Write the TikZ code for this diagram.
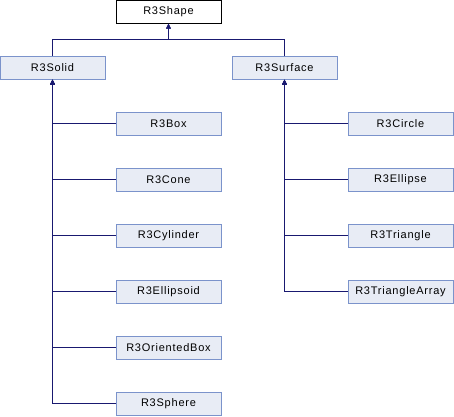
\documentclass[tikz,border=0pt]{standalone}
\usepackage{fontspec}
\newfontfamily\dfont{Liberation Sans}[LetterSpace=7]
\usetikzlibrary{arrows.meta}
\definecolor{edgecol}{HTML}{191970}
\definecolor{boxfill}{HTML}{E8ECF5}
\definecolor{boxline}{HTML}{7B93CB}
\begin{document}
\begin{tikzpicture}[x=1pt,y=-1pt,
  cls/.style={draw=boxline,fill=boxfill,line width=1pt,minimum width=105pt,minimum height=23pt,inner sep=0pt,font=\dfont\fontsize{11}{13}\selectfont},
  mainbox/.style={cls,draw=black,fill=white},
  edge/.style={draw=edgecol,line width=1pt,-{Triangle[length=5pt,width=4.5pt]}}]
\useasboundingbox (0,0) rectangle (454,416);
\node[mainbox] (shape) at (168.5,11.5) {R3Shape};
\node[cls] (solid) at (52.5,67.5) {R3Solid};
\node[cls] (surface) at (284.5,67.5) {R3Surface};
\node[cls] (box) at (168.5,123.5) {R3Box};
\node[cls] (cone) at (168.5,179.5) {R3Cone};
\node[cls] (cyl) at (168.5,235.5) {R3Cylinder};
\node[cls] (ellipsoid) at (168.5,291.5) {R3Ellipsoid};
\node[cls] (obox) at (168.5,347.5) {R3OrientedBox};
\node[cls] (sphere) at (168.5,403.5) {R3Sphere};
\node[cls] (circle) at (400.5,123.5) {R3Circle};
\node[cls] (ellipse) at (400.5,179.5) {R3Ellipse};
\node[cls] (tri) at (400.5,235.5) {R3Triangle};
\node[cls] (triarr) at (400.5,291.5) {R3TriangleArray};
\draw[edge] (solid.north) -- ++(0,-16) -| (shape.south);
\draw[edge] (surface.north) -- ++(0,-16) -| (shape.south);
\foreach \c in {box,cone,cyl,ellipsoid,obox,sphere}
  \draw[edge] (\c.west) -| (solid.south);
\foreach \c in {circle,ellipse,tri,triarr}
  \draw[edge] (\c.west) -| (surface.south);
\end{tikzpicture}
\end{document}
